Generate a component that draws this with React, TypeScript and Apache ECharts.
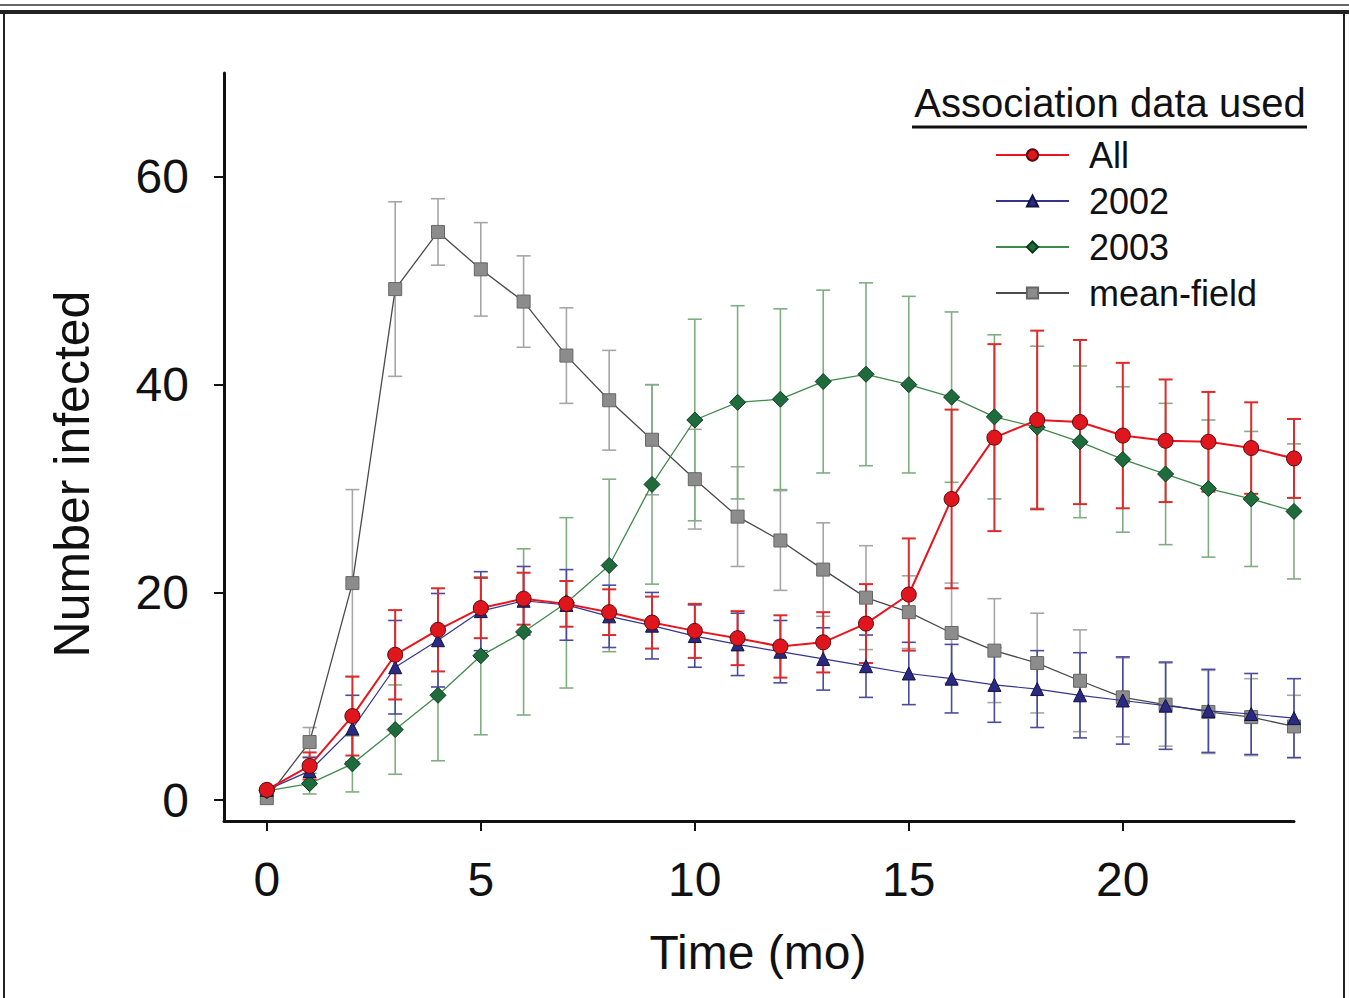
import React, { useEffect, useRef } from "react";
import * as echarts from "echarts";

const months = [0, 1, 2, 3, 4, 5, 6, 7, 8, 9, 10, 11, 12, 13, 14, 15, 16, 17, 18, 19, 20, 21, 22, 23, 24];

const allMean = [1.0, 3.3, 8.1, 14.0, 16.4, 18.5, 19.4, 18.9, 18.1, 17.1, 16.3, 15.6, 14.8, 15.2, 17.0, 19.8, 29.0, 34.9, 36.6, 36.4, 35.1, 34.6, 34.5, 33.9, 32.9];
const allErr = [0, 1.3, 3.8, 4.3, 4.0, 2.9, 2.5, 2.2, 2.2, 2.5, 2.6, 2.6, 3.0, 2.9, 3.8, 5.4, 8.6, 9.0, 8.6, 7.9, 7.0, 5.9, 4.8, 4.4, 3.8];

const y2002Mean = [1.0, 2.8, 6.9, 12.8, 15.4, 18.2, 19.2, 18.8, 17.7, 16.8, 15.8, 15.0, 14.3, 13.6, 12.9, 12.2, 11.7, 11.1, 10.7, 10.1, 9.6, 9.1, 8.6, 8.3, 7.9];
const y2002Err = [0, 1.3, 3.2, 4.5, 4.5, 3.8, 3.3, 3.4, 3.0, 3.2, 3.0, 3.0, 3.0, 3.0, 3.0, 3.0, 3.3, 3.6, 3.7, 4.1, 4.2, 4.2, 4.0, 3.9, 3.8];

const y2003Mean = [0.9, 1.6, 3.5, 6.8, 10.1, 13.9, 16.2, 19.0, 22.6, 30.4, 36.6, 38.3, 38.6, 40.3, 41.0, 40.0, 38.8, 36.9, 35.9, 34.5, 32.8, 31.4, 30.0, 29.0, 27.8];
const y2003Err = [0, 1.0, 2.7, 4.3, 6.3, 7.6, 8.0, 8.2, 8.3, 9.6, 9.7, 9.3, 8.7, 8.8, 8.8, 8.5, 8.2, 7.9, 7.8, 7.3, 7.0, 6.8, 6.6, 6.5, 6.5];

const meanFieldMean = [0.2, 5.6, 20.9, 49.2, 54.7, 51.1, 48.0, 42.8, 38.5, 34.7, 30.9, 27.3, 25.0, 22.2, 19.5, 18.1, 16.1, 14.4, 13.2, 11.5, 9.9, 9.2, 8.5, 8.0, 7.1];
const meanFieldErr = [0, 1.4, 9.0, 8.4, 3.2, 4.5, 4.4, 4.6, 4.8, 5.3, 4.8, 4.8, 4.8, 4.5, 5.0, 3.5, 4.8, 5.0, 4.8, 4.9, 3.8, 4.0, 4.0, 3.7, 3.0];

const seriesNames = ["All", "2002", "2003", "mean-field"];
const xTicks = [0, 5, 10, 15, 20];
const yTicks = [0, 20, 40, 60];

const FONT = "'Liberation Sans', Arial, Helvetica, sans-serif";

export default function App() {
  const ref = useRef<HTMLDivElement>(null);

  useEffect(() => {
    const chart = echarts.init(ref.current!, null, { renderer: "svg" });

    const errData = (mean: number[], err: number[]) =>
      months.map((t, i) => [t, mean[i] - err[i], mean[i] + err[i]]);

    const errSeries = (name: string, mean: number[], err: number[], color: string, width: number) => ({
      type: "custom",
      name: name + " err",
      data: errData(mean, err),
      z: 1,
      silent: true,
      encode: { x: 0, y: [1, 2] },
      renderItem: (_params: any, api: any) => {
        const x = api.value(0);
        const lo = api.value(1);
        const hi = api.value(2);
        if (hi - lo < 1e-6) return { type: "group", children: [] };
        const p1 = api.coord([x, hi]);
        const p2 = api.coord([x, lo]);
        const hw = 7;
        const style = { stroke: color, lineWidth: width };
        return {
          type: "group",
          children: [
            { type: "line", shape: { x1: p1[0], y1: p1[1], x2: p2[0], y2: p2[1] }, style },
            { type: "line", shape: { x1: p1[0] - hw, y1: p1[1], x2: p1[0] + hw, y2: p1[1] }, style },
            { type: "line", shape: { x1: p2[0] - hw, y1: p2[1], x2: p2[0] + hw, y2: p2[1] }, style },
          ],
        };
      },
    });

    const lineSeries = (
      name: string,
      mean: number[],
      symbol: string,
      size: number,
      lineColor: string,
      lineWidth: number,
      fill: string,
      border: string,
      z: number
    ) => ({
      type: "line",
      name,
      data: months.map((t, i) => [t, mean[i]]),
      symbol,
      symbolSize: size,
      showAllSymbol: true,
      z,
      lineStyle: { color: lineColor, width: lineWidth },
      itemStyle: { color: fill, borderColor: border, borderWidth: 1 },
      emphasis: { disabled: true },
    });

    chart.setOption({
      animation: false,
      backgroundColor: "#ffffff",
      grid: { left: 224, top: 73, width: 1070, height: 748, containLabel: false },
      xAxis: {
        type: "value",
        min: -1,
        max: 24,
        axisLine: { show: true, onZero: false, lineStyle: { color: "#111", width: 3 } },
        axisTick: { show: true, length: 10, customValues: xTicks, lineStyle: { color: "#111", width: 2 } },
        axisLabel: { customValues: xTicks, fontSize: 48, color: "#111", margin: 34, fontFamily: FONT },
        splitLine: { show: false },
      },
      yAxis: {
        type: "value",
        min: -2,
        max: 70,
        axisLine: { show: true, onZero: false, lineStyle: { color: "#111", width: 3 } },
        axisTick: { show: true, length: 10, customValues: yTicks, lineStyle: { color: "#111", width: 2 } },
        axisLabel: { customValues: yTicks, fontSize: 48, color: "#111", margin: 35, fontFamily: FONT },
        splitLine: { show: false },
      },
      legend: {
        data: seriesNames,
        orient: "vertical",
        left: 990,
        top: 132,
        itemWidth: 73,
        itemHeight: 14,
        itemGap: 10,
        selectedMode: false,
        textStyle: { fontSize: 36, color: "#111", fontFamily: FONT, padding: [0, 0, 0, 15] },
      },
      graphic: [
        { type: "line", shape: { x1: 0, y1: 5, x2: 1349, y2: 5 }, style: { stroke: "#333", lineWidth: 1.5 } },
        { type: "rect", shape: { x: 4, y: 12, width: 1340, height: 1000 }, style: { fill: "none", stroke: "#222", lineWidth: 2 } },
        { type: "line", shape: { x1: 0, y1: 12, x2: 1349, y2: 12 }, style: { stroke: "#222", lineWidth: 4 } },
        {
          type: "text",
          x: 1110,
          y: 103,
          style: { text: "Association data used", fontSize: 40, fill: "#111", fontFamily: FONT, textAlign: "center", textVerticalAlign: "middle" },
        },
        { type: "line", shape: { x1: 912, y1: 127, x2: 1307, y2: 127 }, style: { stroke: "#111", lineWidth: 3 } },
        {
          type: "text",
          x: 72,
          y: 474,
          rotation: Math.PI / 2,
          style: { text: "Number infected", fontSize: 50, fill: "#111", fontFamily: FONT, textAlign: "center", textVerticalAlign: "middle" },
        },
        {
          type: "text",
          x: 758,
          y: 952,
          style: { text: "Time (mo)", fontSize: 48, fill: "#111", fontFamily: FONT, textAlign: "center", textVerticalAlign: "middle" },
        },
      ],
      series: [
        errSeries("mean-field", meanFieldMean, meanFieldErr, "#a6a6a6", 1.6),
        errSeries("2003", y2003Mean, y2003Err, "#80ad82", 1.6),
        errSeries("2002", y2002Mean, y2002Err, "#4b4b9e", 1.6),
        errSeries("All", allMean, allErr, "#dd2a2a", 2),
        lineSeries("mean-field", meanFieldMean, "rect", 13, "#4a4a4a", 1.3, "#8c8c8c", "#666", 3),
        lineSeries("2003", y2003Mean, "diamond", 16, "#3f8a4a", 1.3, "#1e6b3c", "#0c3a1c", 4),
        lineSeries("2002", y2002Mean, "triangle", 13, "#35358c", 1.2, "#2a2a82", "#121240", 5),
        lineSeries("All", allMean, "circle", 15, "#e8141e", 2, "#e0161e", "#5a0a0a", 6),
      ],
    });

    return () => chart.dispose();
  }, []);

  return (
    <div
      ref={ref}
      style={{ position: "fixed", left: 0, top: 0, width: 1349, height: 998, background: "#fff" }}
    />
  );
}
